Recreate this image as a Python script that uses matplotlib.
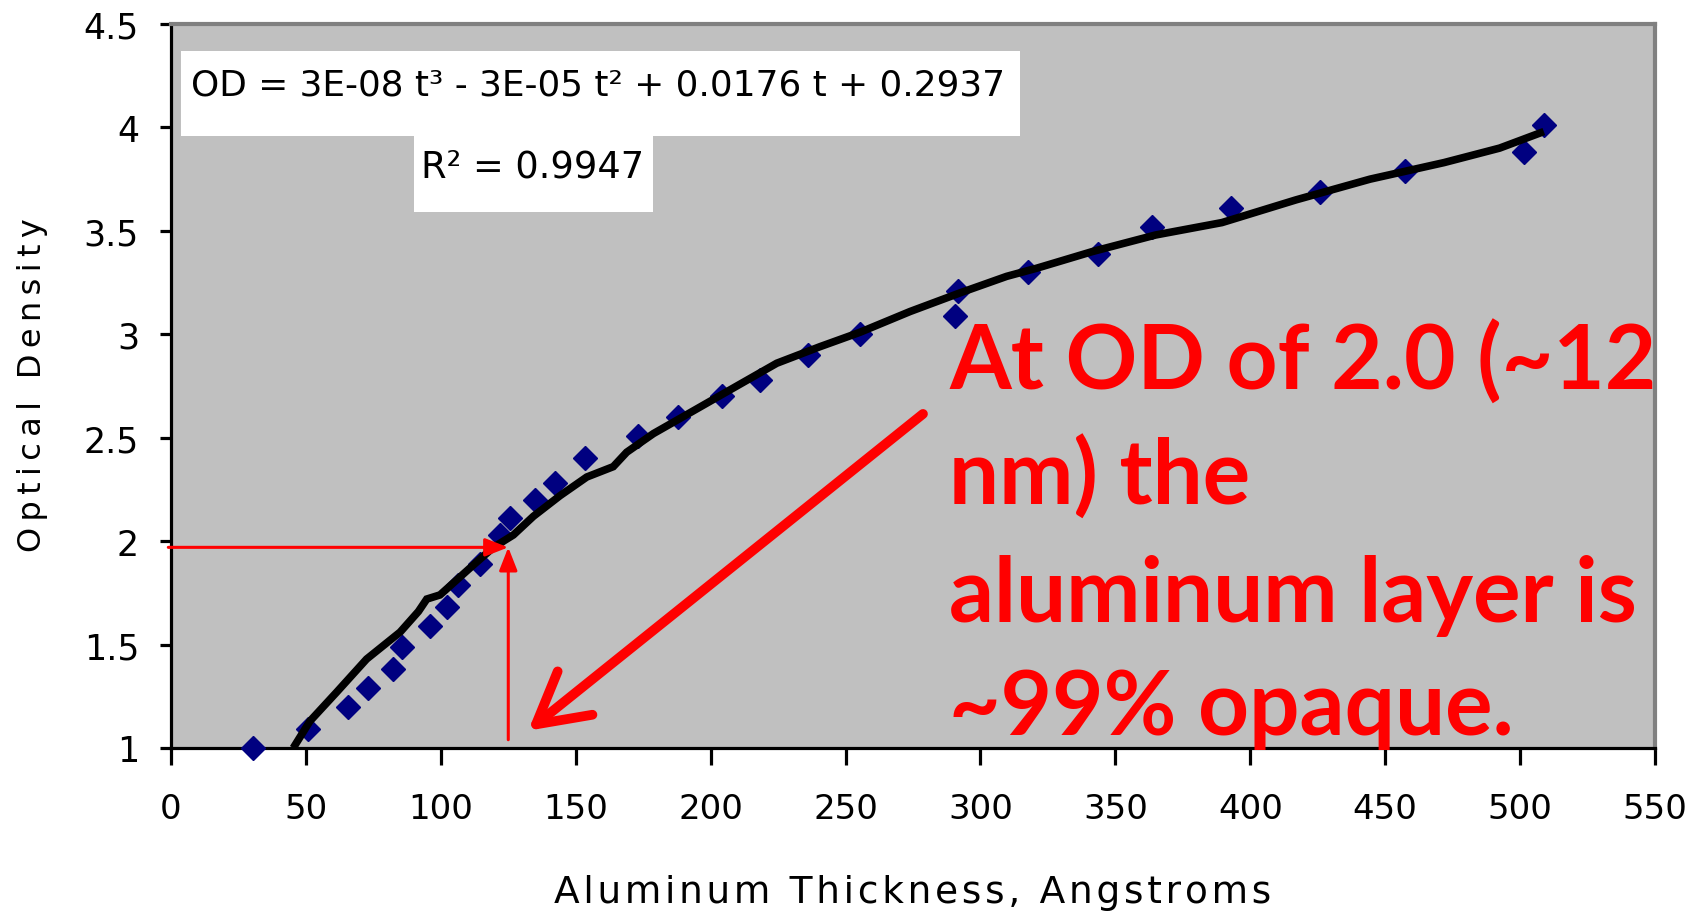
import matplotlib
matplotlib.use("Agg")
import matplotlib.pyplot as plt
from matplotlib.patches import Rectangle

# ---- data ----
thickness = [30.5, 50.9, 65.7, 73.1, 82.4, 85.5, 96.0, 102.2, 106.5, 114.5, 121.9, 125.6,
             134.9, 142.3, 153.4, 173.2, 188.0, 204.1, 218.3, 236.2, 255.4, 290.6, 291.8,
             317.5, 343.6, 363.5, 393.0, 425.9, 457.4, 501.3, 508.8]
od = [1.00, 1.09, 1.20, 1.29, 1.38, 1.49, 1.59, 1.68, 1.79, 1.89, 2.03, 2.11,
      2.20, 2.28, 2.40, 2.51, 2.60, 2.70, 2.78, 2.90, 3.00, 3.09, 3.21,
      3.30, 3.39, 3.52, 3.61, 3.69, 3.79, 3.88, 4.01]

trend_x = [45.3, 51.5, 61.4, 72.5, 84.9, 91.7, 94.8, 99.7, 110.8, 119.5, 126.9, 134.3,
           144.2, 154.1, 163.9, 168.9, 178.8, 193.6, 209.7, 224.5, 240.5, 255.4, 273.9,
           292.4, 309.7, 321.0, 341.5, 364.9, 389.5, 417.0, 444.4, 471.8, 492.4, 508.8]
trend_y = [1.00, 1.13, 1.27, 1.43, 1.56, 1.66, 1.72, 1.74, 1.87, 1.97, 2.03, 2.12,
           2.22, 2.31, 2.36, 2.43, 2.52, 2.63, 2.75, 2.86, 2.94, 3.01, 3.11,
           3.20, 3.28, 3.32, 3.40, 3.48, 3.54, 3.65, 3.75, 3.83, 3.90, 3.98]

x_ticks = [0, 50, 100, 150, 200, 250, 300, 350, 400, 450, 500, 550]
y_ticks = [1, 1.5, 2, 2.5, 3, 3.5, 4, 4.5]
y_tick_labels = ["1", "1.5", "2", "2.5", "3", "3.5", "4", "4.5"]

marker_od = 1.97          # OD level marked by the red guide
marker_t = 125.0          # thickness at that OD
guide_bottom = 1.04
big_arrow_start = (278.7, 2.615)
big_arrow_tip = (132.4, 1.084)

equation = "OD = 3E-08 t\u00b3 - 3E-05 t\u00b2 + 0.0176 t + 0.2937"
r_squared = "R\u00b2 = 0.9947"
x_label = "Aluminum Thickness, Angstroms"
y_label = "Optical Density"
note_lines = ["At OD of 2.0 (~12", "nm) the", "aluminum layer is", "~99% opaque."]

# ---- figure ----
W, H = 1699, 912
fig = plt.figure(figsize=(W / 100, H / 100), dpi=100)
fig.patch.set_facecolor("white")

def fx(px):
    return px / W

def fy(py):
    return 1 - py / H

ax = fig.add_axes([fx(171), fy(749), fx(1655) - fx(171), fy(25) - fy(749)])
ax.set_facecolor("#C0C0C0")
ax.set_xlim(0, 550)
ax.set_ylim(1, 4.5)

ax.plot(thickness, od, linestyle="none", marker="D", markersize=12,
        color="#000080", markeredgecolor="#000080", zorder=3, clip_on=False)
ax.plot(trend_x, trend_y, color="black", lw=5.5, zorder=4, solid_capstyle="butt",
        solid_joinstyle="miter")

ax.set_xticks(x_ticks)
ax.set_xticklabels([str(v) for v in x_ticks])
ax.set_yticks(y_ticks)
ax.set_yticklabels(y_tick_labels)

for side in ("left", "bottom"):
    ax.spines[side].set_color("black")
    ax.spines[side].set_linewidth(2.3)
for side in ("top", "right"):
    ax.spines[side].set_color("#808080")
    ax.spines[side].set_linewidth(3)

ax.tick_params(axis="x", direction="out", length=12, width=2.3, pad=20,
               labelsize=24.5, colors="black")
ax.tick_params(axis="y", direction="out", length=8, width=2.3, pad=15,
               labelsize=25, colors="black")
for lab in ax.get_xticklabels() + ax.get_yticklabels():
    lab.set_family("DejaVu Sans")

# axis titles (letter-spaced like the original)
fig.text(fx(913), fy(893), "\u200a".join(x_label), ha="center", va="center",
         fontsize=27, family="DejaVu Sans")
fig.text(fx(33), fy(385), "\u2009".join(y_label), ha="center", va="center",
         rotation=90, fontsize=23, family="DejaVu Sans")

# equation boxes
fig.patches.append(Rectangle((fx(181), fy(137)), fx(1020) - fx(181), fy(52) - fy(137),
                             transform=fig.transFigure, facecolor="white",
                             edgecolor="none", zorder=5))
fig.patches.append(Rectangle((fx(414), fy(213)), fx(653) - fx(414), fy(137) - fy(213),
                             transform=fig.transFigure, facecolor="white",
                             edgecolor="none", zorder=5))
fig.text(fx(598), fy(86), equation, ha="center", va="center", fontsize=25.8,
         family="DejaVu Sans", zorder=6)
fig.text(fx(533), fy(167), r_squared, ha="center", va="center", fontsize=26.5,
         family="DejaVu Sans", zorder=6)

# red guides
ax.annotate("", xy=(marker_t, marker_od), xytext=(-1, marker_od),
            arrowprops=dict(arrowstyle="-|>,head_length=1.4,head_width=0.55",
                            color="red", lw=2.2, mutation_scale=10,
                            shrinkA=0, shrinkB=0),
            annotation_clip=False, zorder=6)
ax.annotate("", xy=(marker_t, marker_od), xytext=(marker_t, guide_bottom),
            arrowprops=dict(arrowstyle="-|>,head_length=1.4,head_width=0.55",
                            color="red", lw=2.2, mutation_scale=10,
                            shrinkA=0, shrinkB=0),
            annotation_clip=False, zorder=6)
ax.annotate("", xy=big_arrow_tip, xytext=big_arrow_start,
            arrowprops=dict(arrowstyle="->,head_length=3.6,head_width=2.0",
                            color="red", lw=7, mutation_scale=10,
                            shrinkA=0, shrinkB=0, capstyle="round",
                            joinstyle="round"),
            annotation_clip=False, zorder=6)

# red note
baselines = [390, 505, 621.7, 735]
for line, b in zip(note_lines, baselines):
    fig.text(fx(949), fy(b), line, ha="left", va="baseline", fontsize=64,
             fontweight="bold", family=["Lato", "DejaVu Sans"], color="red", zorder=7)

fig.savefig("out.png", dpi=100, facecolor="white")
